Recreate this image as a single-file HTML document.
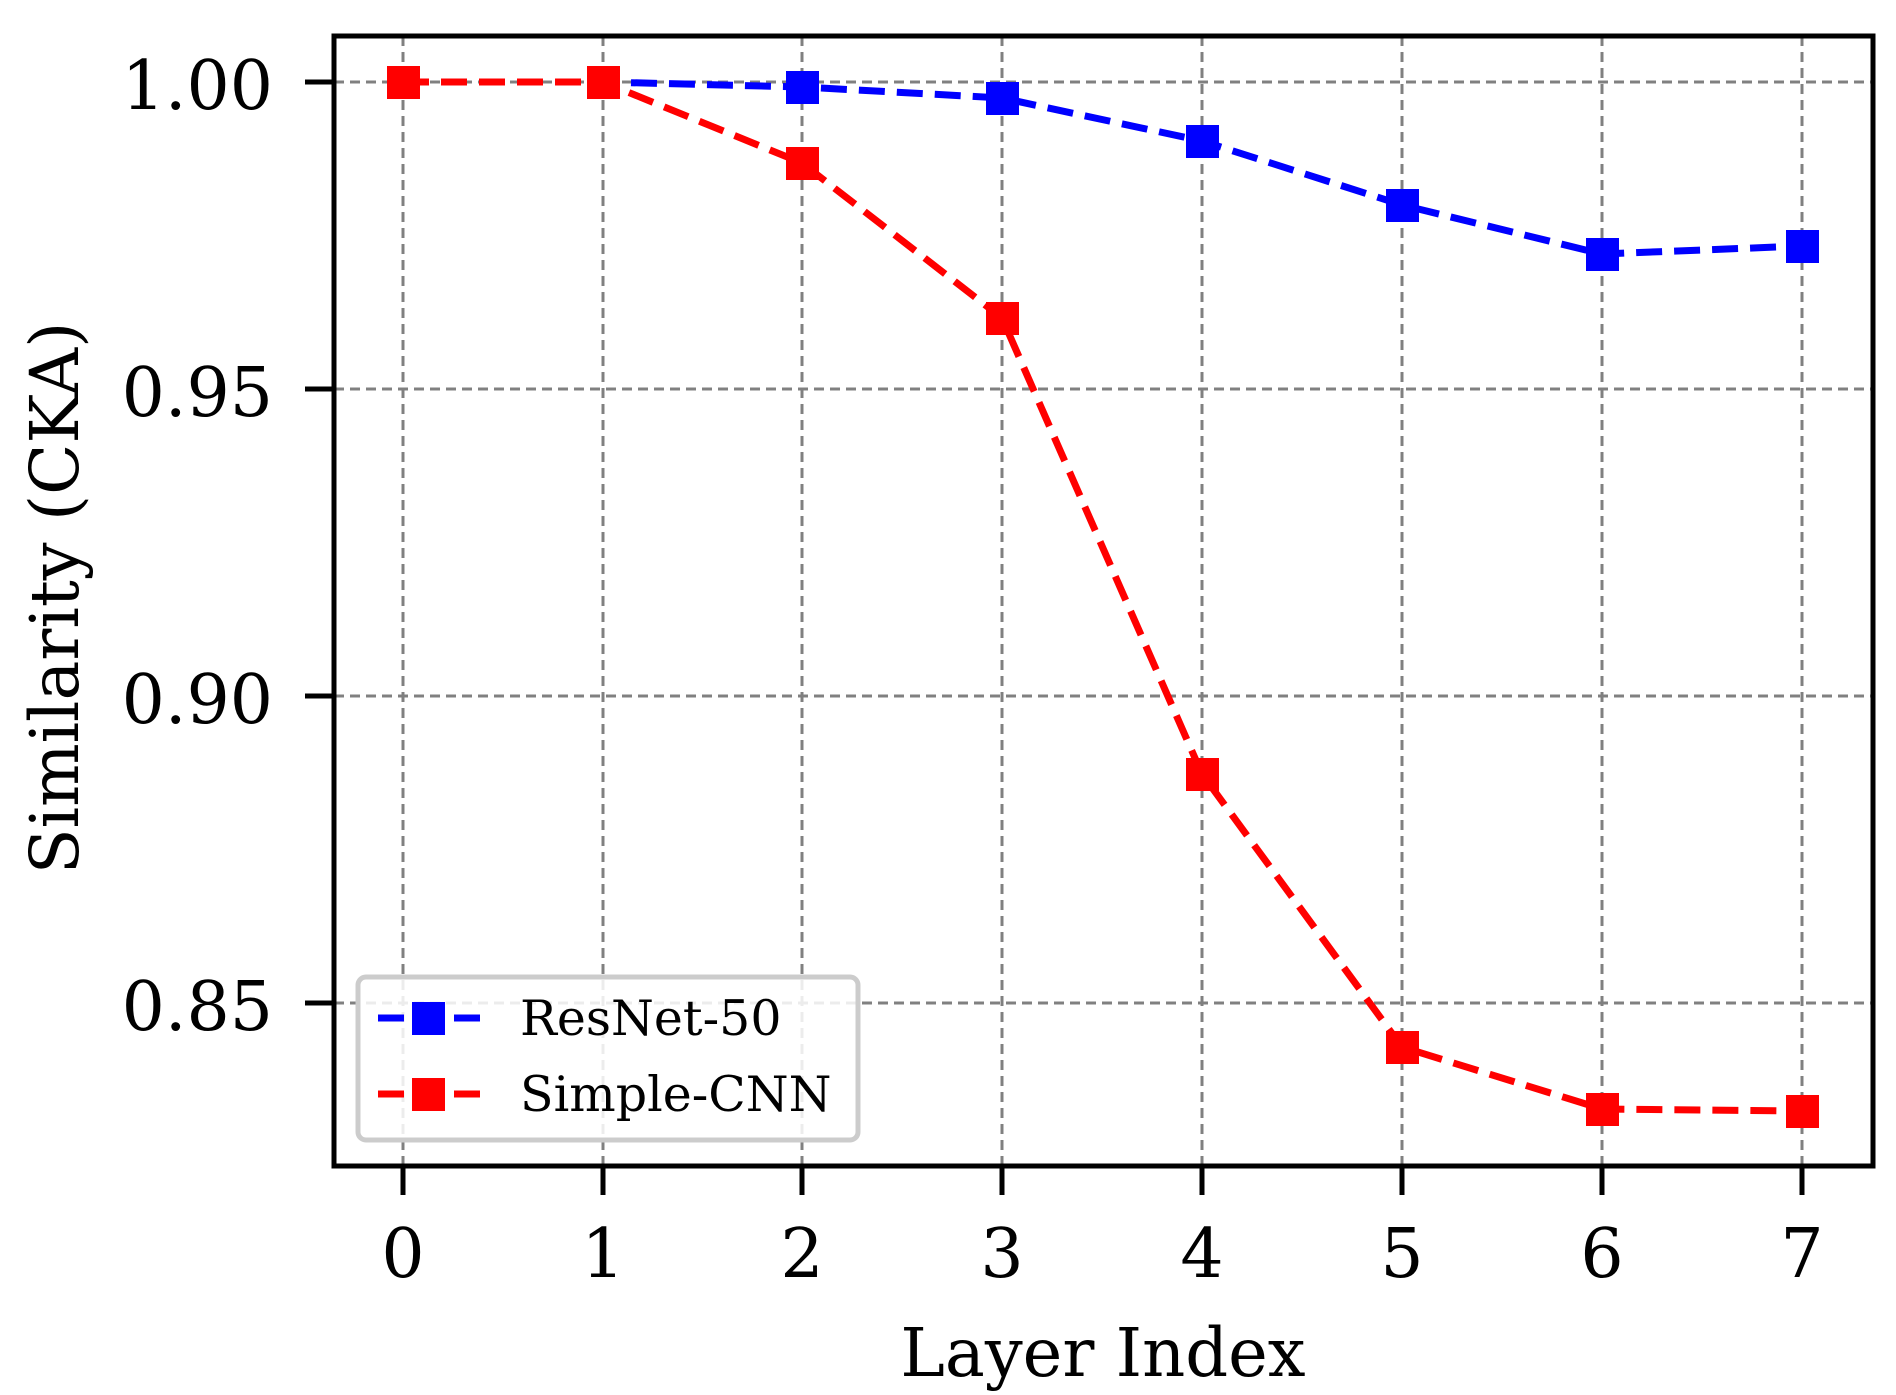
<!DOCTYPE html>
<html><head><style>body{margin:0;background:#fff}svg{display:block}</style></head><body>
<svg width="1896" height="1395" xmlns="http://www.w3.org/2000/svg" font-family="DejaVu Serif, serif">
<g transform="translate(0,-2)">
<g stroke="#808080" stroke-width="3" stroke-dasharray="10,6">
<line x1="403" y1="38" x2="403" y2="1168"/><line x1="603" y1="38" x2="603" y2="1168"/><line x1="802" y1="38" x2="802" y2="1168"/><line x1="1002" y1="38" x2="1002" y2="1168"/><line x1="1202" y1="38" x2="1202" y2="1168"/><line x1="1402" y1="38" x2="1402" y2="1168"/><line x1="1602" y1="38" x2="1602" y2="1168"/><line x1="1802" y1="38" x2="1802" y2="1168"/>
<line x1="334" y1="84" x2="1873" y2="84"/><line x1="334" y1="391" x2="1873" y2="391"/><line x1="334" y1="698" x2="1873" y2="698"/><line x1="334" y1="1005" x2="1873" y2="1005"/>
</g>
<polyline fill="none" stroke="#0000ff" stroke-width="7" stroke-dasharray="26,12" points="403,84 603,84 802,89 1002,100 1202,143 1402,207 1602,256 1802,248"/>
<g fill="#0000ff"><rect x="786" y="73" width="33" height="33"/><rect x="986" y="84" width="33" height="33"/><rect x="1186" y="127" width="33" height="33"/><rect x="1386" y="191" width="33" height="33"/><rect x="1586" y="240" width="33" height="33"/><rect x="1786" y="232" width="33" height="33"/></g>
<polyline fill="none" stroke="#ff0000" stroke-width="7" stroke-dasharray="26,12" points="403,84 603,84 802,165 1002,320 1202,776 1402,1049 1602,1111 1802,1113"/>
<g fill="#ff0000"><rect x="387" y="68" width="33" height="33"/><rect x="587" y="68" width="33" height="33"/><rect x="786" y="149" width="33" height="33"/><rect x="986" y="304" width="33" height="33"/><rect x="1186" y="760" width="33" height="33"/><rect x="1386" y="1033" width="33" height="33"/><rect x="1586" y="1095" width="33" height="33"/><rect x="1786" y="1097" width="33" height="33"/></g>
<g stroke="#000" stroke-width="5">
<line x1="305" y1="84" x2="334" y2="84"/><line x1="305" y1="391" x2="334" y2="391"/><line x1="305" y1="698" x2="334" y2="698"/><line x1="305" y1="1005" x2="334" y2="1005"/>
</g>
<g font-size="68" text-anchor="end" fill="#000">
<text x="273" y="111">1.00</text><text x="273" y="418">0.95</text><text x="273" y="725">0.90</text><text x="273" y="1032">0.85</text>
</g>
</g>
<rect x="334" y="36" width="1539" height="1130" fill="none" stroke="#000" stroke-width="5"/>
<g stroke="#000" stroke-width="5">
<line x1="403" y1="1166" x2="403" y2="1195"/><line x1="603" y1="1166" x2="603" y2="1195"/><line x1="802" y1="1166" x2="802" y2="1195"/><line x1="1002" y1="1166" x2="1002" y2="1195"/><line x1="1202" y1="1166" x2="1202" y2="1195"/><line x1="1402" y1="1166" x2="1402" y2="1195"/><line x1="1602" y1="1166" x2="1602" y2="1195"/><line x1="1802" y1="1166" x2="1802" y2="1195"/>
</g>
<g font-size="68" text-anchor="middle" fill="#000">
<text x="403" y="1277">0</text><text x="603" y="1277">1</text><text x="802" y="1277">2</text><text x="1002" y="1277">3</text><text x="1202" y="1277">4</text><text x="1402" y="1277">5</text><text x="1602" y="1277">6</text><text x="1802" y="1277">7</text>
</g>
<text x="1103" y="1376" font-size="67" text-anchor="middle">Layer Index</text>
<text transform="translate(78,598) rotate(-90)" font-size="67" text-anchor="middle">Similarity (CKA)</text>
<rect x="358" y="977" width="500" height="163" rx="8" fill="#fff" fill-opacity="0.85" stroke="#cccccc" stroke-width="5"/>
<line x1="378" y1="1018" x2="480" y2="1018" stroke="#0000ff" stroke-width="7" stroke-dasharray="26,12"/>
<rect x="412" y="1002" width="33" height="33" fill="#0000ff"/>
<line x1="378" y1="1094" x2="480" y2="1094" stroke="#ff0000" stroke-width="7" stroke-dasharray="26,12"/>
<rect x="412" y="1078" width="33" height="33" fill="#ff0000"/>
<text x="520" y="1035" font-size="49">ResNet-50</text>
<text x="520" y="1111" font-size="49">Simple-CNN</text>
</svg>
</body></html>
